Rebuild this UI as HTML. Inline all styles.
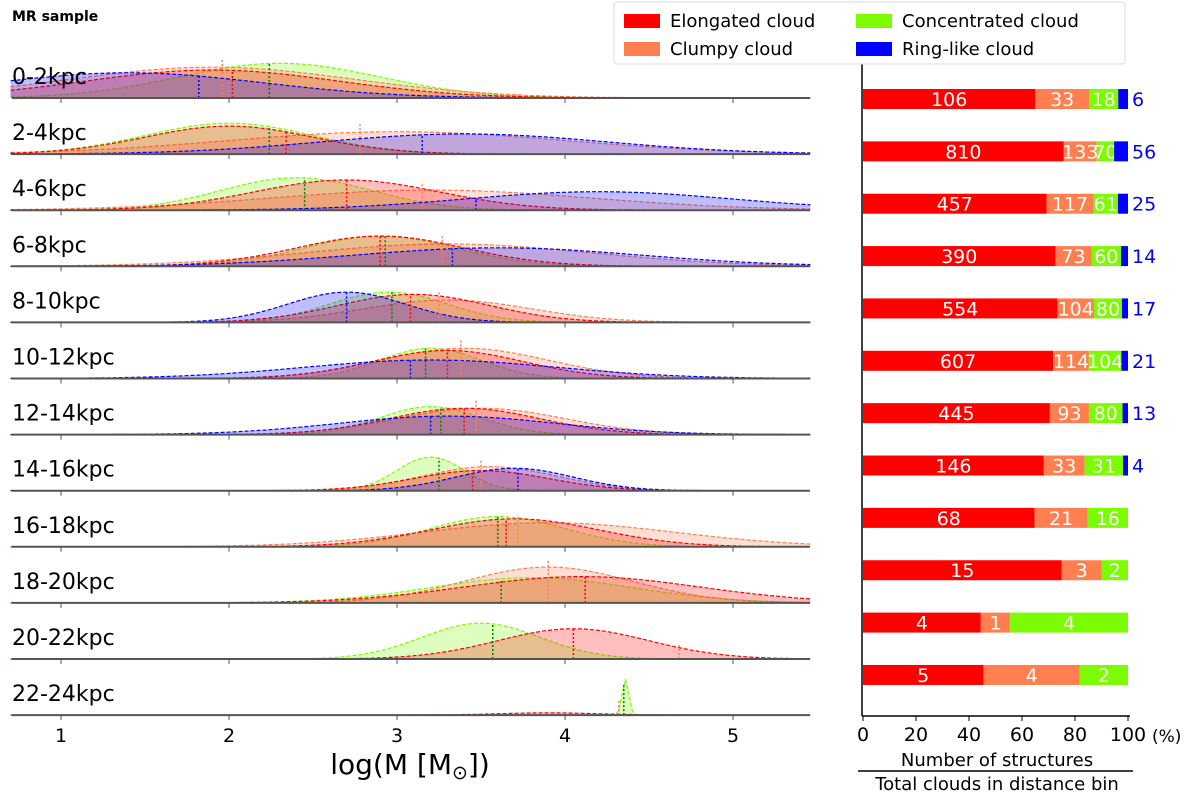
<!DOCTYPE html>
<html><head><meta charset="utf-8">
<style>
html,body{margin:0;padding:0;background:#fff;}
svg{display:block;font-family:"DejaVu Sans","Liberation Sans",sans-serif;}
</style></head>
<body>
<svg id="chart" width="1200" height="795" viewBox="0 0 1200 795">
<text x="12" y="21" font-size="14" font-weight="bold">MR sample</text>
<g id="left"></g>
<g id="right"></g>
<g>
<rect x="614" y="2" width="511" height="62" fill="#fff" stroke="#ddd" rx="3"/>
<g><rect x="624" y="14" width="36" height="14" fill="#ff0000"/><text x="670" y="27" font-size="18">Elongated cloud</text></g>
<g><rect x="624" y="42" width="36" height="14" fill="#ff7f50"/><text x="670" y="55" font-size="18">Clumpy cloud</text></g>
<g><rect x="856" y="14" width="36" height="14" fill="#7cfc00"/><text x="902" y="27" font-size="18">Concentrated cloud</text></g>
<g><rect x="856" y="42" width="36" height="14" fill="#0000ff"/><text x="902" y="55" font-size="18">Ring-like cloud</text></g>
</g>
</svg>
<script>
const bins = ["0-2kpc","2-4kpc","4-6kpc","6-8kpc","8-10kpc","10-12kpc","12-14kpc","14-16kpc","16-18kpc","18-20kpc","20-22kpc","22-24kpc"];
const types = ["elongated","clumpy","concentrated","ringlike"];
const colors = ["#ff0000","#ff7f50","#7cfc00","#0000ff"];
const medianColors = ["#ff0000","#ff7f50","#008000","#0000ff"];
const means = [[1.9,1.9,2.3,1.4],[2.0,3.0,2.0,3.4],[2.7,3.2,2.4,4.2],[2.9,3.3,2.9,3.6],[3.1,3.3,2.95,2.7],[3.3,3.4,3.2,3.2],[3.4,3.5,3.2,3.3],[3.5,3.55,3.2,3.7],[3.7,3.9,3.6,null],[4.1,3.9,3.8,null],[4.05,null,3.5,null],[3.9,null,4.36,null]];
const sigmas = [[0.75,0.85,0.6,0.8],[0.5,1.0,0.5,0.85],[0.55,0.95,0.45,0.8],[0.5,0.85,0.45,0.85],[0.45,0.5,0.35,0.35],[0.45,0.5,0.3,0.75],[0.45,0.5,0.3,0.65],[0.4,0.4,0.2,0.35],[0.5,0.75,0.4,0],[0.7,0.5,0.6,0],[0.45,0,0.35,0],[0.3,0,0.02,0]];
const heights = [[0.5,0.55,0.62,0.45],[0.5,0.4,0.55,0.36],[0.54,0.36,0.58,0.33],[0.54,0.4,0.54,0.33],[0.5,0.4,0.54,0.54],[0.5,0.54,0.54,0.33],[0.47,0.47,0.5,0.33],[0.36,0.43,0.6,0.4],[0.5,0.43,0.54,0],[0.47,0.64,0.45,0],[0.54,0,0.64,0],[0.04,0,0.64,0]];
const medians = [[2.02,1.96,2.24,1.82],[2.34,2.78,2.24,3.15],[2.7,3.15,2.45,3.47],[2.9,3.27,2.93,3.33],[3.08,3.25,2.97,2.7],[3.3,3.38,3.17,3.08],[3.4,3.47,3.26,3.2],[3.45,3.5,3.25,3.72],[3.65,3.72,3.6,null],[4.12,3.9,3.62,null],[4.05,4.68,3.57,null],[null,4.32,4.35,null]];
const counts = [[106,33,18,6],[810,133,70,56],[457,117,61,25],[390,73,60,14],[554,104,80,17],[607,114,104,21],[445,93,80,13],[146,33,31,4],[68,21,16,0],[15,3,2,0],[4,1,4,0],[5,4,2,0]];
const xTicks = [1,2,3,4,5];
const pctTicks = [0,20,40,60,80,100];

const NS="http://www.w3.org/2000/svg";
function mk(tag,attrs,parent){const e=document.createElementNS(NS,tag);for(const k in attrs)e.setAttribute(k,attrs[k]);parent.appendChild(e);return e;}
const xL = v => 61 + (v-1)*168;
const rowBase = i => 98 + i*56.1;
const rowH = 56;
const L=document.getElementById('left'), R=document.getElementById('right');
const xmin=0.7, xmax=5.46;
function dens(b,t,v){const m=means[b][t];if(m===null)return 0;const s=sigmas[b][t];return heights[b][t]*Math.exp(-0.5*((v-m)/s)**2);}

bins.forEach((name,b)=>{
  const base=rowBase(b);
  const g=mk('g',{},L);
  
  
  [2,1,0,3].forEach(t=>{
    if(means[b][t]===null)return;
    let pts=[];
    for(let v=xmin;v<=xmax+1e-9;v+=0.02){pts.push([xL(v),base-dens(b,t,v)*rowH]);}
    const line=pts.map((p,i)=>(i?'L':'M')+p[0].toFixed(1)+','+p[1].toFixed(1)).join('');
    const area=mk('path',{d:line+`L${xL(xmax)},${base}L${xL(xmin)},${base}Z`,fill:colors[t],'fill-opacity':0.25,stroke:'none'},g);
    
    
    const ln=mk('path',{d:line,fill:'none',stroke:colors[t],'stroke-width':1.2,'stroke-dasharray':'4,2'},g);
    
    
  });
  types.forEach((tp,t)=>{
    const md=medians[b][t]; if(md===null)return;
    let h=Math.max(dens(b,t,md)*rowH, 8); if(t===1)h+=8;
    const ml=mk('line',{x1:xL(md),x2:xL(md),y1:base,y2:base-h,stroke:medianColors[t],'stroke-width':1.5,'stroke-dasharray':'2,2'},g);
    
    
  });
  const bl=mk('line',{x1:12,x2:810,y1:base,y2:base,stroke:'#555','stroke-width':2},g);
  
  
  const lb=mk('text',{x:12,y:base-14,'font-size':22},g); lb.textContent=name;
  
  
  xTicks.forEach(v=>{const tk=mk('line',{x1:xL(v),x2:xL(v),y1:base,y2:base+5,stroke:'#555','stroke-width':1},g);
    
    });
});
xTicks.forEach(v=>{const t=mk('text',{x:xL(v),y:742,'font-size':19,'text-anchor':'middle'},L);t.textContent=v;
  
  });
const xt=mk('text',{x:410,y:774,'font-size':28,'text-anchor':'middle'},L);
xt.innerHTML='log(M [M<tspan font-size="19" dy="5">⊙</tspan><tspan dy="-5">])</tspan>';



const xR = p => 863 + p*2.65;
const ax=mk('line',{x1:862,x2:862,y1:64,y2:716,stroke:'#000','stroke-width':1.5},R);


const bx=mk('line',{x1:862,x2:1130,y1:716,y2:716,stroke:'#000','stroke-width':1.5},R);


pctTicks.forEach(p=>{
  const tk=mk('line',{x1:xR(p),x2:xR(p),y1:716,y2:721,stroke:'#000'},R);
  
  
  const t=mk('text',{x:xR(p),y:741,'font-size':19,'text-anchor':'middle'},R);t.textContent=p;
  
  
});
const pc=mk('text',{x:1152,y:742,'font-size':17},R);pc.textContent='(%)';


counts.forEach((c,b)=>{
  const tot=c.reduce((a,v)=>a+v,0); const cy=99+b*52.36; let acc=0;
  c.forEach((v,t)=>{
    if(v===0)return;
    const x0=xR(acc/tot*100), x1=xR((acc+v)/tot*100); acc+=v;
    const r=mk('rect',{x:x0,y:cy-10,width:x1-x0,height:20,fill:colors[t]},R);
    
    
    const t2=mk('text',{x:t===3?x1+4:(x0+x1)/2,y:cy+7,'font-size':19,fill:t===3?'#0000ff':'#fff','text-anchor':t===3?'start':'middle'},R);
    t2.textContent=v;
    
    
  });
});
const t1=mk('text',{x:997,y:766,'font-size':18,'text-anchor':'middle'},R);t1.textContent='Number of structures';


const fl=mk('line',{x1:858,x2:1133,y1:771,y2:771,stroke:'#000','stroke-width':1.5},R);


const t3=mk('text',{x:997,y:790,'font-size':18,'text-anchor':'middle'},R);t3.textContent='Total clouds in distance bin';


</script>
</body></html>
